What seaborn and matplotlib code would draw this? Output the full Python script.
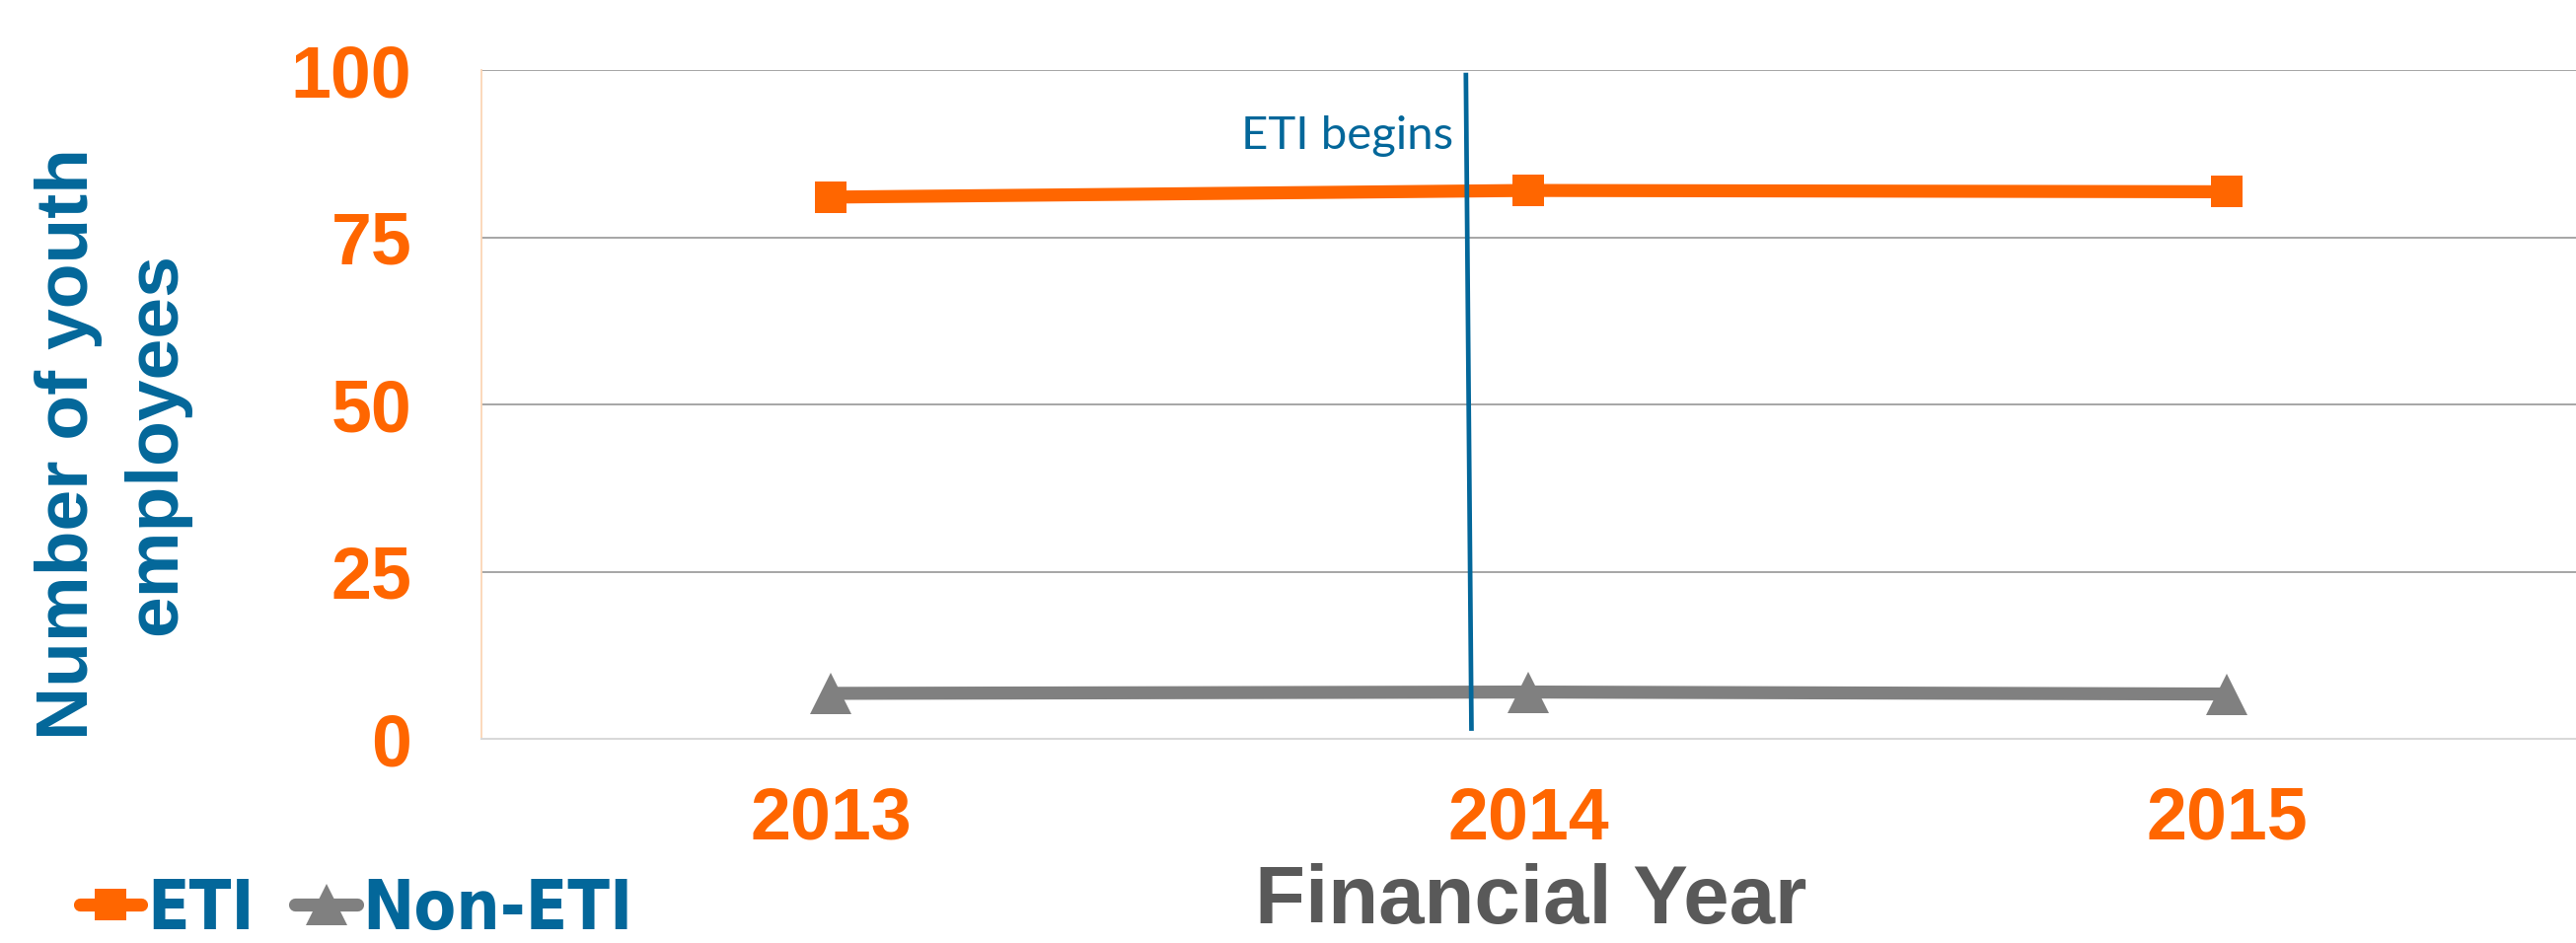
import pandas as pd
import seaborn as sns
import matplotlib.pyplot as plt
from matplotlib import font_manager

# data
years = ['2013', '2014', '2015']
eti = [81.0, 82.0, 81.8]
non_eti = [6.8, 7.0, 6.7]
y_ticks = [0, 25, 50, 75, 100]

# "ETI begins" marker line (data coords, slightly slanted like the original)
begin_x = [0.910, 0.918]
begin_y = [99.6, 1.2]
begin_label = 'ETI begins'

orange = '#FF6600'
grey = '#808080'
blue = '#03679A'

df = pd.DataFrame({'year': years * 2,
                   'group': ['ETI'] * 3 + ['Non-ETI'] * 3,
                   'value': eti + non_eti})

sns.set_style('white')
plt.rcParams['font.family'] = ['Liberation Sans', 'DejaVu Sans']

# legend uses a narrow bold face if one is around
names = {f.name for f in font_manager.fontManager.ttflist}
has_condensed = any(f.name == 'DejaVu Sans' and f.stretch == 'condensed'
                    and f.weight in ('bold', 700)
                    for f in font_manager.fontManager.ttflist)
if 'Liberation Sans Narrow' in names:
    leg_prop = {'family': 'Liberation Sans Narrow', 'weight': 'bold', 'size': 56}
elif has_condensed:
    leg_prop = {'family': 'DejaVu Sans', 'stretch': 'condensed',
                'weight': 'bold', 'size': 50}
else:
    leg_prop = {'family': 'Liberation Sans', 'weight': 'bold', 'size': 49}

fig = plt.figure(figsize=(26.11, 9.56), dpi=100)
ax = fig.add_axes([0.1869, 0.2165, 0.8131, 0.7092])

sns.lineplot(data=df, x='year', y='value', hue='group', style='group',
             palette={'ETI': orange, 'Non-ETI': grey},
             markers={'ETI': 's', 'Non-ETI': '^'}, dashes=False,
             linewidth=9.5, markeredgewidth=0, solid_capstyle='round',
             ax=ax)
ax.get_legend().remove()
series = ax.lines[:2]
series[0].set_markersize(23)
series[1].set_markersize(30)

# ETI begins line + label
ax.plot(begin_x, begin_y, color=blue, lw=3.4, solid_capstyle='butt')
ax.text(0.892, 88.2, begin_label, ha='right', va='baseline',
        color=blue, fontsize=34, family=['Lato', 'DejaVu Sans'])

ax.set_xlim(-0.5, 2.5)
ax.set_ylim(0, 100)
ax.set_yticks(y_ticks)
ax.yaxis.grid(True, color='#A6A6A6', lw=1.4)
ax.set_axisbelow(True)
ax.set_xlabel('')
ax.set_ylabel('')

for s in ['top', 'right']:
    ax.spines[s].set_visible(False)
ax.spines['left'].set_color('#FBD5B5')
ax.spines['left'].set_linewidth(1.3)
ax.spines['bottom'].set_color('#D9D9D9')
ax.spines['bottom'].set_linewidth(1.5)

ax.tick_params(axis='y', length=0, pad=51, labelsize=53, labelcolor=orange)
ax.tick_params(axis='x', length=13, width=1.3, color='#D9D9D9', direction='out',
               pad=21, labelsize=53, labelcolor=orange)
for lab in ax.get_xticklabels() + ax.get_yticklabels():
    lab.set_fontweight('bold')

# axis titles
fig.text(0.0437, 0.529, 'Number of youth\nemployees', rotation=90,
         ha='center', va='center', multialignment='center', linespacing=1.38,
         fontsize=54, fontweight='bold', color=blue)
fig.text(1552 / 2611, 0.003, 'Financial Year', ha='center', va='bottom',
         fontsize=60, fontweight='bold', color='#595959')

leg = fig.legend(series, ['ETI', 'Non-ETI'], loc='center left',
                 bbox_to_anchor=(0.031, 0.0355), ncol=2, frameon=False,
                 borderpad=0, borderaxespad=0, handlelength=0.9,
                 handletextpad=0.08, columnspacing=0.6, prop=leg_prop)
for t in leg.get_texts():
    t.set_color(blue)

fig.savefig('out.png', dpi=100)
